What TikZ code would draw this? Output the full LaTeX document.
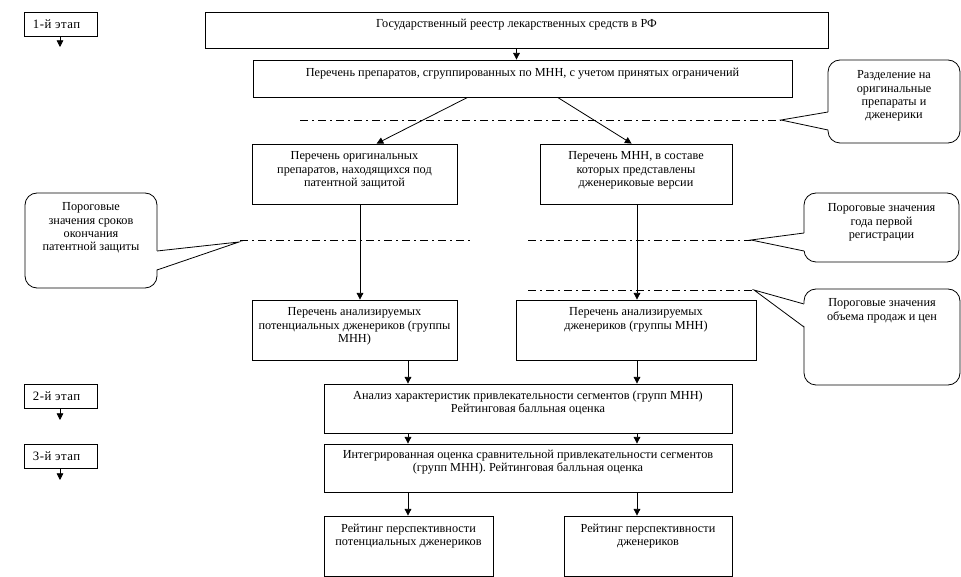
\documentclass[tikz,border=0pt]{standalone}
\usepackage{fontspec}
\setmainfont{Liberation Serif}
\newfontfamily\stagefont[LetterSpace=4]{Liberation Serif}
\usetikzlibrary{arrows.meta,fit,calc}
\begin{document}
\begin{tikzpicture}[x=0.75pt,y=-0.75pt,
  box/.style={draw, line width=0.6pt, inner sep=0pt},
  txt/.style={font=\fontsize{9.2}{10}\selectfont, align=center, inner sep=0pt, anchor=north},
  stxt/.style={font=\stagefont\fontsize{9.6}{10}\selectfont, inner sep=0pt, anchor=west},
  callbox/.style={draw, line width=0.6pt, rounded corners=9pt, inner sep=0pt},
  ptr/.style={line width=0.6pt, line join=miter},
  arr/.style={-{Triangle[width=5pt,length=5pt]}, line width=0.6pt},
  ddline/.style={line width=0.6pt, dash pattern=on 6pt off 3pt on 1.5pt off 3pt},
]
\useasboundingbox[fill=white] (0,0) rectangle (961,577);

% stage boxes
\node[box, fit={(24,12) (97,36)}] (s1) {};
\node[stxt] (ts1) at ($(s1.west)+(9,0)$) {1-й этап};
\node[box, fit={(24,384) (97,408)}] (s2) {};
\node[stxt] (ts2) at ($(s2.west)+(9,0)$) {2-й этап};
\node[box, fit={(24,444) (97,468)}] (s3) {};
\node[stxt] (ts3) at ($(s3.west)+(9,0)$) {3-й этап};
\coordinate (s1e) at (60,47);
\coordinate (s2e) at (60,420);
\coordinate (s3e) at (60,480);
\draw[arr] (s1.south -| s1e) -- (s1e);
\draw[arr] (s2.south -| s2e) -- (s2e);
\draw[arr] (s3.south -| s3e) -- (s3e);

% main boxes
\node[box, fit={(205,12) (828,48)}] (b1) {};
\node[txt] (t1) at ($(b1.north)+(0,7)$) {Государственный реестр лекарственных средств в РФ};
\node[box, fit={(253,60) (792,97)}] (b2) {};
\node[txt] (t2) at ($(b2.north)+(0,8)$) {Перечень препаратов, сгруппированных по МНН, с учетом принятых ограничений};
\node[box, fit={(252,144) (457,204)}] (b3) {};
\node[txt] (t3) at ($(b3.north)+(0,8)$) {Перечень оригинальных\\препаратов, находящихся под\\патентной защитой};
\node[box, fit={(540,144) (732,204)}] (b4) {};
\node[txt] (t4) at ($(b4.north)+(0,8)$) {Перечень МНН, в составе\\которых представлены\\дженериковые версии};
\node[box, fit={(252,300) (457,360)}] (b5) {};
\node[txt] (t5) at ($(b5.north)+(0,8)$) {Перечень анализируемых\\потенциальных дженериков (группы\\МНН)};
\node[box, fit={(516,300) (756,360)}] (b6) {};
\node[txt] (t6) at ($(b6.north)+(0,8)$) {Перечень анализируемых\\дженериков (группы МНН)};
\node[box, fit={(324,384) (732,433)}] (b7) {};
\node[txt] (t7) at ($(b7.north)+(0,7)$) {Анализ характеристик привлекательности сегментов (групп МНН)\\Рейтинговая балльная оценка};
\node[box, fit={(324,444) (732,492)}] (b8) {};
\node[txt] (t8) at ($(b8.north)+(0,6)$) {Интегрированная оценка сравнительной привлекательности сегментов\\(групп МНН). Рейтинговая балльная оценка};
\node[box, fit={(324,516) (493,576)}] (b9) {};
\node[txt] (t9) at ($(b9.north)+(0,8)$) {Рейтинг перспективности\\потенциальных дженериков};
\node[box, fit={(564,516) (732,576)}] (b10) {};
\node[txt] (t10) at ($(b10.north)+(0,8)$) {Рейтинг перспективности\\дженериков};

% connectors
\coordinate (cA) at (360,0);
\coordinate (cL) at (408,0);
\coordinate (cR) at (637,0);
\draw[arr] (b1.south) -- (b1.south |- b2.north);
\draw[arr] ($(b2.south west)+(215,0)$) -- ($(b3.north west)+(125,0)$);
\draw[arr] ($(b2.south west)+(305,0)$) -- ($(b4.north west)+(92,0)$);
\draw[arr] (b3.south -| cA) -- (b5.north -| cA);
\draw[arr] (b4.south -| cR) -- (b6.north -| cR);
\draw[arr] (b5.south -| cL) -- (b7.north -| cL);
\draw[arr] (b6.south -| cR) -- (b7.north -| cR);
\draw[arr] (b7.south -| cL) -- (b8.north -| cL);
\draw[arr] (b7.south -| cR) -- (b8.north -| cR);
\draw[arr] (b8.south -| cL) -- (b9.north -| cL);
\draw[arr] (b8.south -| cR) -- (b10.north -| cR);

% dash-dot threshold lines
\coordinate (d1a) at (300,120); \coordinate (p1) at (781,120);
\coordinate (d2a) at (240,240); \coordinate (d2b) at (470,240);
\coordinate (d3a) at (528,240); \coordinate (p3) at (751,240);
\coordinate (d4a) at (528,290); \coordinate (p4) at (754,290);
\coordinate (p2) at (239,242);
\draw[ddline] (d1a) -- (p1);
\draw[ddline] (d2a) -- (d2b);
\draw[ddline] (d3a) -- (p3);
\draw[ddline] (d4a) -- (p4);

% callouts
\node[callbox, fit={(828,60) (960,143)}] (c1) {};
\fill[white] (829.5,112) -- (p1) -- (829.5,130) -- cycle;
\draw[ptr] (828,112) -- (p1) -- (828,130);
\node[txt] (tc1) at ($(c1.north)+(0,11)$) {Разделение на\\оригинальные\\препараты и\\дженерики};

\node[callbox, fit={(25,193) (157,288)}] (c2) {};
\fill[white] (155.5,251) -- (p2) -- (155.5,270) -- cycle;
\draw[ptr] (157,251) -- (p2) -- (157,270);
\node[txt] (tc2) at ($(c2.north)+(0,10)$) {Пороговые\\значения сроков\\окончания\\патентной защиты};

\node[callbox, fit={(804,193) (959,262)}] (c3) {};
\fill[white] (805.5,233) -- (p3) -- (805.5,251) -- cycle;
\draw[ptr] (804,233) -- (p3) -- (804,251);
\node[txt] (tc3) at ($(c3.north)+(0,11)$) {Пороговые значения\\года первой\\регистрации};

\node[callbox, fit={(804,289) (960,385)}] (c4) {};
\fill[white] (805.5,304) -- (p4) -- (805.5,327) -- cycle;
\draw[ptr] (804,304) -- (p4) -- (804,327);
\node[txt] (tc4) at ($(c4.north)+(0,10)$) {Пороговые значения\\объема продаж и цен};
\end{tikzpicture}
\end{document}
